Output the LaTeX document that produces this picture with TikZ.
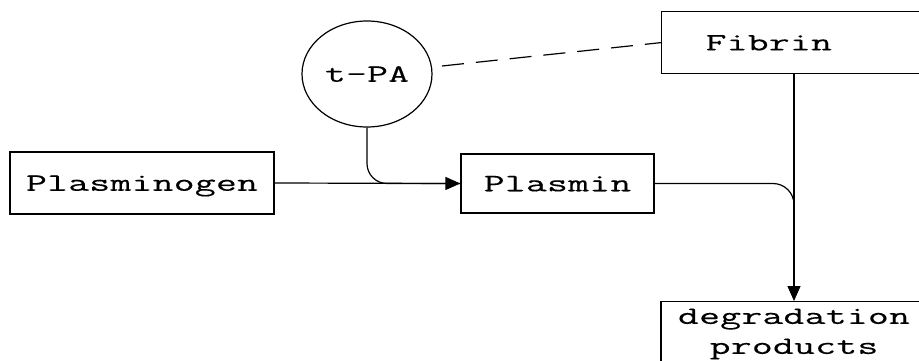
\documentclass[tikz,border=0pt]{standalone}
\usepackage{fontspec}
\setmonofont{Latin Modern Mono}[FakeStretch=1.62,LetterSpace=1,FakeBold=0.35]
\usetikzlibrary{shapes.geometric,arrows.meta}
\newcommand\lblfont{\ttfamily\fontsize{25}{30}\selectfont}
\begin{document}
\begin{tikzpicture}[x=1pt,y=-1pt,
  box/.style={draw, line width=1.2pt, font=\lblfont, inner sep=0pt},
  one/.style={text height=15.5pt, text depth=0pt},
  conn/.style={draw, line width=1.2pt},
  tip/.style={-{Triangle[length=15pt,width=13pt]}}]
\useasboundingbox (0,0) rectangle (919,360);
\clip (0,0) rectangle (919,360);
\fill[white] (0,0) rectangle (919,360);
\node[box, one, minimum width=264pt, minimum height=62pt] (plg) at (142,183) {Plasminogen};
\node[box, one, minimum width=193pt, minimum height=59pt] (plm) at (557.5,183.5) {Plasmin};
\node[box, one, ellipse, minimum width=130pt, minimum height=106pt] (tpa) at (367,74) {t-PA};
\node[box, one, anchor=north west, minimum height=62pt, text width=280pt, align=left] (fib) at (661,11) {\hspace*{44pt}Fibrin};
\node[box, anchor=north, minimum width=266pt, inner ysep=7pt, align=center] (deg) at (794,301) {degradation\\products};
\coordinate (join) at (794,240);
\draw[conn, tip] (plg.east) -- (plm.west);
\draw[conn, rounded corners=20pt] (tpa.south) |- (plm.west);
\draw[conn, dash pattern=on 22pt off 12pt, shorten <=10pt] (tpa) -- (fib.west);
\draw[conn, tip] (deg.north |- fib.south) -- (deg.north);
\draw[conn, rounded corners=21pt] (plm.east) -| (join);
\end{tikzpicture}
\end{document}
